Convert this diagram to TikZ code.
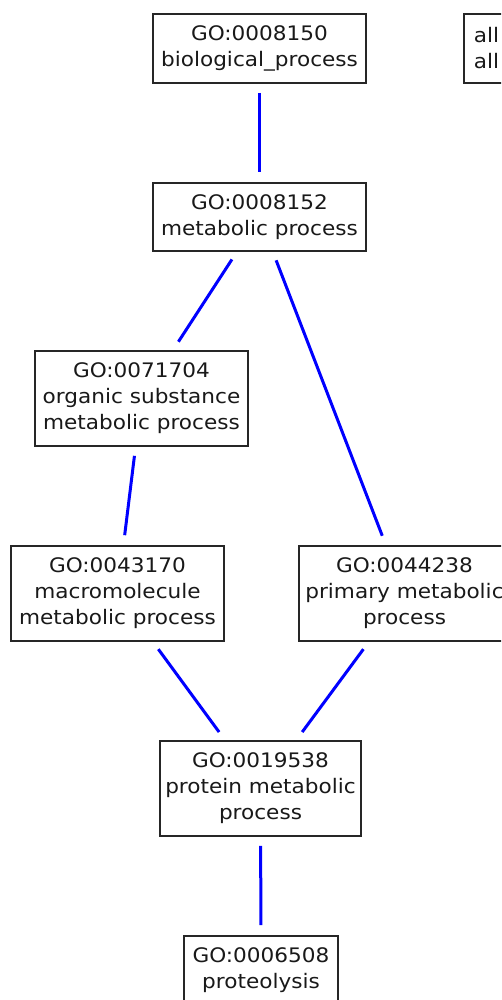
\documentclass[tikz,border=0pt]{standalone}
\usepackage{fontspec}
\setmainfont[FakeStretch=1.08]{DejaVu Sans}
\begin{document}
\begin{tikzpicture}[x=1pt,y=-1pt,
  term/.style={draw=black!85, line width=1.8pt, fill=white, align=center,
    inner sep=0pt, font=\fontsize{20}{26}\selectfont, text=black!90},
  edge/.style={draw=blue, line width=3pt, shorten <=9pt, shorten >=10pt}]
\useasboundingbox (0,0) rectangle (501,1000);
\clip (0,0) rectangle (501,1000);
% GO terms
\node[term, minimum width=213, minimum height=69] (bp) at (259.5,48.5) {GO:0008150\\biological\_process};
\node[term, minimum width=45, minimum height=69, anchor=west, align=left, inner xsep=9pt] (all) at (463,48.5) {all\\all};
\node[term, minimum width=213, minimum height=68] (mp) at (259.5,217) {GO:0008152\\metabolic process};
\node[term, minimum width=213, minimum height=95] (osmp) at (141.5,398.5) {GO:0071704\\organic substance\\metabolic process};
\node[term, minimum width=213, minimum height=95] (mmp) at (117.5,593.5) {GO:0043170\\macromolecule\\metabolic process};
\node[term, minimum width=211, minimum height=95] (pmp) at (404.5,593.5) {GO:0044238\\primary metabolic\\process};
\node[term, minimum width=201, minimum height=95] (prmp) at (260.5,788.5) {GO:0019538\\protein metabolic\\process};
\node[term, minimum width=154, minimum height=69] (prot) at (261,970.5) {GO:0006508\\proteolysis};
% is_a links
\draw[edge] (bp) -- (mp);
\draw[edge] (mp) -- (osmp);
\draw[edge] (mp) -- (pmp);
\draw[edge] (osmp) -- (mmp);
\draw[edge] (mmp) -- (prmp);
\draw[edge] (pmp) -- (prmp);
\draw[edge] (prmp) -- (prot);
\end{tikzpicture}
\end{document}
